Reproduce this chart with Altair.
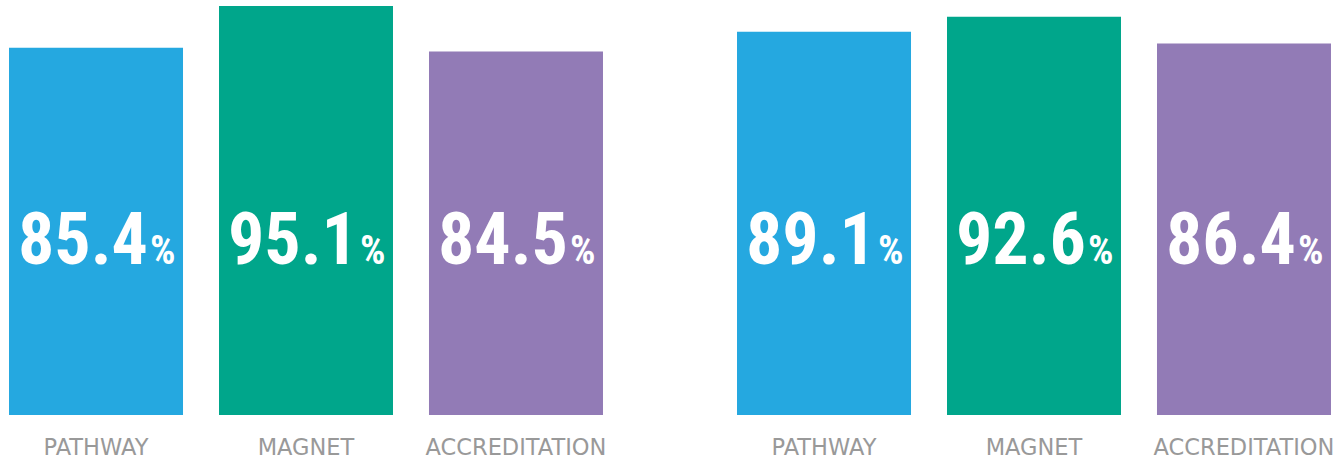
import altair as alt
import pandas as pd

categories = ["PATHWAY", "MAGNET", "ACCREDITATION"]
left_values = [85.4, 95.1, 84.5]
right_values = [89.1, 92.6, 86.4]
colors = ["#25A8E0", "#00A68B", "#927BB6"]

NUM_FONT = "'Roboto Condensed', 'DejaVu Sans Condensed', 'Arial Narrow', sans-serif"

def panel(values):
    df = pd.DataFrame({"cat": categories, "val": values,
                       "lbl": [f"{v:.1f}" for v in values]})
    x = alt.X("cat:N", sort=categories,
              scale=alt.Scale(paddingInner=0.1714, paddingOuter=0.0429),
              axis=alt.Axis(title=None, domain=False, ticks=False, labelAngle=0,
                            labelFontSize=22.5, labelColor="#999999",
                            labelFont="DejaVu Sans", labelPadding=21, labelLimit=400))
    bars = alt.Chart(df).mark_bar().encode(
        x=x,
        y=alt.Y("val:Q", scale=alt.Scale(domain=[0, 96.5], nice=False), axis=None),
        color=alt.Color("cat:N", scale=alt.Scale(domain=categories, range=colors), legend=None),
    )
    num = alt.Chart(df).mark_text(
        font=NUM_FONT, fontWeight="bold", fontSize=72,
        color="white", align="right", baseline="alphabetic", dx=52,
    ).encode(x=alt.X("cat:N", sort=categories), y=alt.value(264), text="lbl:N")
    pct = alt.Chart(df).mark_text(
        font=NUM_FONT, fontWeight="bold", fontSize=40,
        color="white", align="left", baseline="alphabetic", dx=54,
    ).encode(x=alt.X("cat:N", sort=categories), y=alt.value(264), text=alt.value("%"))
    return (bars + num + pct).properties(width=612, height=415)

chart = alt.hconcat(panel(left_values), panel(right_values), spacing=116).properties(
    padding={"left": 0, "right": 0, "top": 0, "bottom": 0}
).configure_view(stroke=None)

chart.save("out.html", embed_options={"renderer": "svg", "actions": False})
